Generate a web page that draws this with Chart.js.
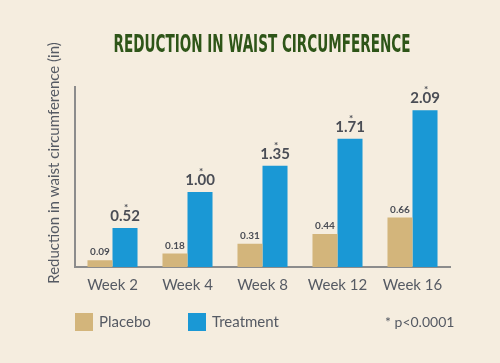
<!DOCTYPE html>
<html>
<head>
<meta charset="utf-8">
<script src="https://cdn.jsdelivr.net/npm/chart.js@4"></script>
<style>
  html, body { margin: 0; padding: 0; background: #f5eddf; }
  #wrap { width: 500px; height: 363px; }
</style>
</head>
<body>
<div id="wrap"><canvas id="c" width="500" height="363"></canvas></div>
<script>
const titleText = "REDUCTION IN WAIST CIRCUMFERENCE";
const yAxisTitle = "Reduction in waist circumference (in)";
const categories = ["Week 2", "Week 4", "Week 8", "Week 12", "Week 16"];
const placeboValues = [0.09, 0.18, 0.31, 0.44, 0.66];
const treatmentValues = [0.52, 1.00, 1.35, 1.71, 2.09];
const seriesNames = ["Placebo", "Treatment"];
const footnote = "* p<0.0001";

const COLORS = { placebo: "#d3b57b", treatment: "#1a98d5", text: "#555a63", axis: "#8c8c8c", title: "#2e5518", bg: "#f5eddf" };

const bgPlugin = {
  id: "bg",
  beforeDraw(chart) {
    const ctx = chart.ctx;
    ctx.save();
    ctx.fillStyle = COLORS.bg;
    ctx.fillRect(0, 0, chart.width, chart.height);
    ctx.restore();
  }
};

const decorPlugin = {
  id: "decor",
  afterDraw(chart) {
    const ctx = chart.ctx;
    ctx.save();
    // Title (condensed)
    ctx.font = "bold 25px 'Liberation Sans Narrow', 'DejaVu Sans Condensed', sans-serif";
    ctx.fillStyle = COLORS.title;
    ctx.textBaseline = "middle";
    ctx.textAlign = "center";
    const tw = ctx.measureText(titleText).width;
    const sx = 297 / tw;
    ctx.save();
    ctx.translate(262, 45);
    ctx.scale(sx, 1);
    ctx.fillText(titleText, 0, 0);
    ctx.restore();

    // Y axis title
    ctx.save();
    ctx.font = "15px Lato, sans-serif";
    ctx.fillStyle = COLORS.text;
    ctx.translate(54, 163);
    ctx.rotate(-Math.PI / 2);
    ctx.textAlign = "center";
    ctx.textBaseline = "middle";
    ctx.fillText(yAxisTitle, 0, 0);
    ctx.restore();

    // Value labels
    chart.data.datasets.forEach((ds, di) => {
      const meta = chart.getDatasetMeta(di);
      meta.data.forEach((bar, i) => {
        const v = ds.data[i];
        ctx.textAlign = "center";
        ctx.textBaseline = "middle";
        ctx.fillStyle = "#4a4d55";
        if (di === 0) {
          ctx.font = "bold 10px Lato, sans-serif";
          ctx.fillText(v.toFixed(2), bar.x, bar.y - 8);
        } else {
          ctx.font = "bold 15px Lato, sans-serif";
          ctx.fillText(v.toFixed(2), bar.x, bar.y - 12);
          ctx.font = "bold 10px Lato, sans-serif";
          ctx.fillText("*", bar.x + 1, bar.y - 20);
        }
      });
    });

    // Legend
    const legendItems = [
      { label: chart.data.datasets[0].label, color: chart.data.datasets[0].backgroundColor, x: 75 },
      { label: chart.data.datasets[1].label, color: chart.data.datasets[1].backgroundColor, x: 188 }
    ];
    ctx.font = "15px Lato, sans-serif";
    ctx.textAlign = "left";
    ctx.textBaseline = "middle";
    legendItems.forEach(it => {
      ctx.fillStyle = it.color;
      ctx.fillRect(it.x, 313, 18, 18);
      ctx.fillStyle = COLORS.text;
      ctx.fillText(it.label, it.x + 24, 322);
    });
    ctx.font = "14px Lato, sans-serif";
    ctx.fillText(footnote, 385, 322);
    ctx.restore();
  }
};

new Chart(document.getElementById("c"), {
  type: "bar",
  data: {
    labels: categories,
    datasets: [
      { label: seriesNames[0], data: placeboValues, backgroundColor: COLORS.placebo, categoryPercentage: 0.667, barPercentage: 1.0 },
      { label: seriesNames[1], data: treatmentValues, backgroundColor: COLORS.treatment, categoryPercentage: 0.667, barPercentage: 1.0 }
    ]
  },
  options: {
    responsive: false,
    animation: false,
    devicePixelRatio: 1,
    layout: { padding: { left: 75, right: 50, top: 87, bottom: 60 } },
    plugins: { legend: { display: false }, tooltip: { enabled: false }, title: { display: false } },
    scales: {
      x: {
        grid: { display: false, drawTicks: false },
        border: { display: true, color: COLORS.axis, width: 2 },
        ticks: { color: COLORS.text, font: { family: "Lato", size: 15 }, padding: 9 }
      },
      y: {
        min: 0, max: 2.4,
        grid: { display: false, drawTicks: false },
        border: { display: true, color: COLORS.axis, width: 2 },
        ticks: { display: false }
      }
    }
  },
  plugins: [bgPlugin, decorPlugin]
});
</script>
</body>
</html>
